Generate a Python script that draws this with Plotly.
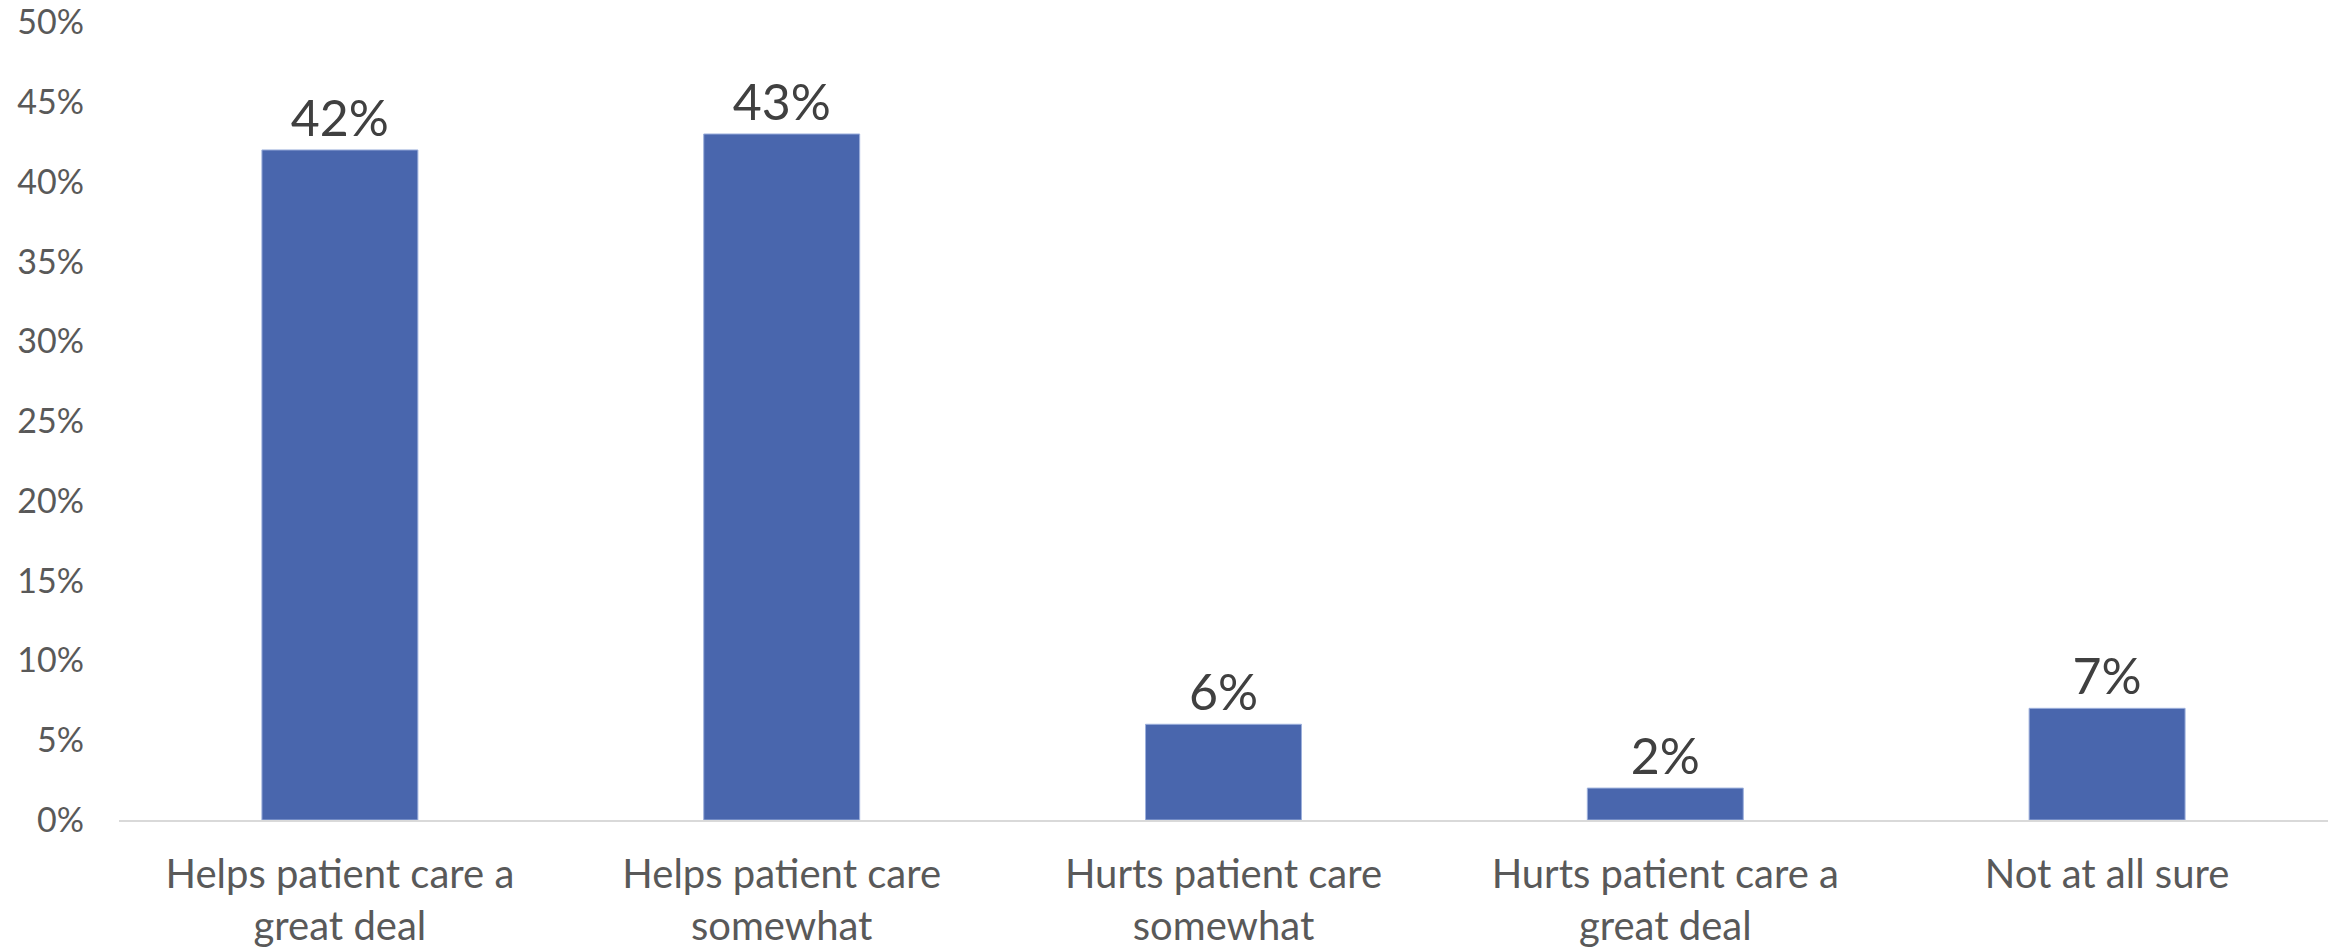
import plotly.graph_objects as go

# survey answers and shares (percent)
categories = [
    "Helps patient care a<br>great deal",
    "Helps patient care<br>somewhat",
    "Hurts patient care<br>somewhat",
    "Hurts patient care a<br>great deal",
    "Not at all sure",
]
shares = [42, 43, 6, 2, 7]
y_ticks = [0, 5, 10, 15, 20, 25, 30, 35, 40, 45, 50]
y_labels = [f"{v}%" for v in y_ticks]

BAR = "#4966AD"
FONT = "Lato, Open Sans, sans-serif"

fig = go.Figure()
fig.add_trace(go.Bar(
    x=categories,
    y=shares,
    width=0.353,
    marker=dict(color=BAR, line=dict(color="#9DB0DC", width=1)),
    text=[f"{v}%" for v in shares],
    texttemplate="%{text}",
    textposition="outside",
    cliponaxis=False,
    textfont=dict(family=FONT, size=50, color="#404040"),
    hoverinfo="x+y",
))

fig.update_layout(
    width=2336,
    height=951,
    margin=dict(l=119, r=8, t=22, b=131),
    paper_bgcolor="white",
    plot_bgcolor="white",
    showlegend=False,
    font=dict(family=FONT, color="#595959"),
    xaxis=dict(
        showline=True,
        linecolor="#D9D9D9",
        linewidth=2,
        showgrid=False,
        automargin=False,
        tickfont=dict(size=40, color="#595959"),
        ticklabelstandoff=18,
    ),
    yaxis=dict(
        range=[0, 50.02],
        tickvals=y_ticks,
        ticktext=y_labels,
        showgrid=False,
        zeroline=False,
        showline=False,
        automargin=False,
        ticklabeloverflow="allow",
        tickfont=dict(size=34, color="#595959"),
        ticklabelstandoff=34,
    ),
)

# drop the default page margin so the figure fills the window exactly
fig.write_html("out.html", config={"displayModeBar": False},
               post_script="document.body.style.margin='0';")
